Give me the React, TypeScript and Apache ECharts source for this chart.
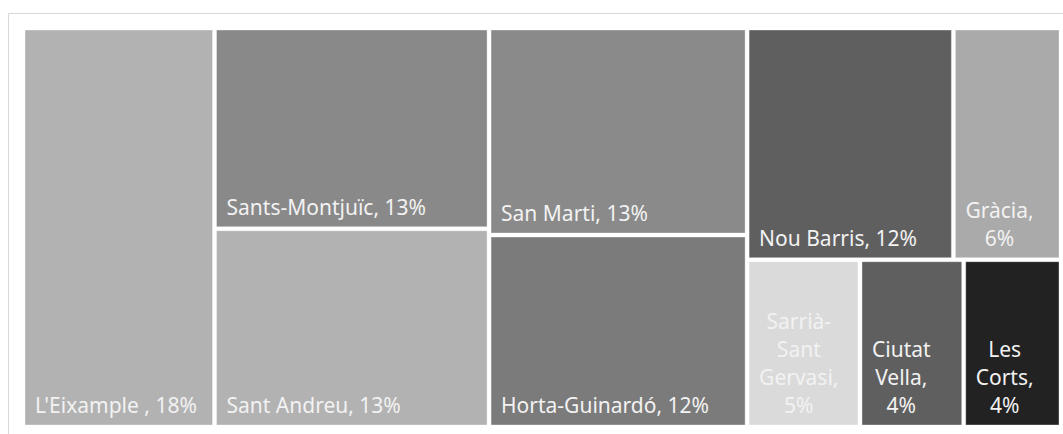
import React, { useEffect, useRef } from 'react';
import * as echarts from 'echarts';

// District shares (%)
const districts = ["L'Eixample ", 'Sants-Montjuïc', 'Sant Andreu', 'San Marti', 'Horta-Guinardó', 'Nou Barris', 'Gràcia', 'Sarrià-Sant Gervasi', 'Ciutat Vella', 'Les Corts'];
const shares = [18.45, 13.31, 13.14, 12.9, 11.96, 11.54, 6.02, 4.56, 4.19, 3.93];
const fills = ['#b2b2b2', '#898989', '#b2b2b2', '#8a8a8a', '#7b7b7b', '#5f5f5f', '#aaaaaa', '#dadada', '#5f5f5f', '#222222'];
// Grouping of tiles: columns, then rows, then columns
const layoutTree: any[] = [[0], [1, 2], [3, 4], [[5, 6], [7, 8, 9]]];

const FONT_SIZE = 21;
const FONT_FAMILY = '"Noto Sans", sans-serif';
const LINE_H = 28;
const PAD = 10;

const total = shares.reduce((a, b) => a + b, 0);

function nodeSum(node: any): number {
  if (typeof node === 'number') return shares[node];
  return node.reduce((s: number, n: any) => s + nodeSum(n), 0);
}

type Cell = { x0: number; x1: number; y0: number; y1: number };

function layout(node: any, x0: number, x1: number, y0: number, y1: number, horizontal: boolean, out: Cell[]) {
  if (typeof node === 'number') {
    out[node] = { x0, x1, y0, y1 };
    return;
  }
  const sum = nodeSum(node);
  let acc = 0;
  node.forEach((child: any) => {
    const s = nodeSum(child);
    const f0 = acc / sum;
    const f1 = (acc + s) / sum;
    acc += s;
    if (horizontal) {
      layout(child, x0 + (x1 - x0) * f0, x0 + (x1 - x0) * f1, y0, y1, !horizontal, out);
    } else {
      layout(child, x0, x1, y0 + (y1 - y0) * f0, y0 + (y1 - y0) * f1, !horizontal, out);
    }
  });
}

const cells: Cell[] = [];
layout(layoutTree, 0, total, 0, 1, true, cells);

let measureCtx: CanvasRenderingContext2D | null = null;
function textWidth(t: string): number {
  if (!measureCtx) {
    measureCtx = document.createElement('canvas').getContext('2d');
  }
  if (!measureCtx) return t.length * FONT_SIZE * 0.55;
  measureCtx.font = `${FONT_SIZE}px ${FONT_FAMILY}`;
  return measureCtx.measureText(t).width;
}

function labelLines(i: number, avail: number): string[] {
  const pct = Math.round((shares[i] / total) * 100) + '%';
  const full = districts[i] + ', ' + pct;
  if (textWidth(full) <= avail) return [full];
  // split name into tokens after hyphens and at spaces
  const tokens: string[] = [];
  districts[i].split(' ').forEach((w, wi, arr) => {
    const parts = w.split('-');
    parts.forEach((p, pi) => {
      tokens.push(p + (pi < parts.length - 1 ? '-' : '') + (pi === parts.length - 1 && wi < arr.length - 1 ? ' ' : ''));
    });
  });
  const lines: string[] = [];
  let cur = '';
  tokens.forEach((tk) => {
    const trial = cur + tk;
    if (cur && textWidth(trial.trim()) > avail) {
      lines.push(cur.trim());
      cur = tk;
    } else {
      cur = trial;
    }
  });
  if (cur.trim()) lines.push(cur.trim());
  lines[lines.length - 1] = lines[lines.length - 1] + ',';
  lines.push(pct);
  return lines;
}

export default function App() {
  const ref = useRef<HTMLDivElement>(null);
  useEffect(() => {
    if (!ref.current) return;
    const chart = echarts.init(ref.current, null, { renderer: 'svg' });
    chart.setOption({
      animation: false,
      backgroundColor: '#ffffff',
      grid: { left: 23, top: 28, width: 1038, height: 399 },
      xAxis: { type: 'value', min: 0, max: total, show: false },
      yAxis: { type: 'value', min: 0, max: 1, inverse: true, show: false },
      graphic: [
        {
          type: 'rect',
          silent: true,
          shape: { x: 8.5, y: 13.5, width: 1080, height: 440 },
          style: { fill: 'none', stroke: '#d9d9d9', lineWidth: 1 },
        },
      ],
      series: [
        {
          type: 'custom',
          clip: false,
          data: districts.map((_, i) => [i]),
          renderItem: (params: any, api: any) => {
            const i = api.value(0);
            const c = cells[i];
            const p0 = api.coord([c.x0, c.y0]);
            const p1 = api.coord([c.x1, c.y1]);
            const x = p0[0] + 2;
            const y = p0[1] + 2;
            const w = p1[0] - p0[0] - 4;
            const h = p1[1] - p0[1] - 4;
            const lines = labelLines(i, w - 2 * PAD);
            const maxW = Math.max(...lines.map((l) => textWidth(l)));
            const multi = lines.length > 1;
            return {
              type: 'group',
              children: [
                {
                  type: 'rect',
                  shape: { x, y, width: w, height: h },
                  style: { fill: fills[i], stroke: 'rgba(255,255,255,0.35)', lineWidth: 1 },
                },
                {
                  type: 'text',
                  x: multi ? x + PAD + maxW / 2 : x + PAD,
                  y: y + h - 6,
                  style: {
                    text: lines.join('\n'),
                    fill: '#f2f2f2',
                    fontSize: FONT_SIZE,
                    fontFamily: FONT_FAMILY,
                    align: multi ? 'center' : 'left',
                    verticalAlign: 'bottom',
                    lineHeight: LINE_H,
                  },
                },
              ],
            };
          },
        },
      ],
    });
    return () => chart.dispose();
  }, []);
  return <div ref={ref} style={{ position: 'absolute', left: 0, top: 0, width: 1063, height: 434 }} />;
}
